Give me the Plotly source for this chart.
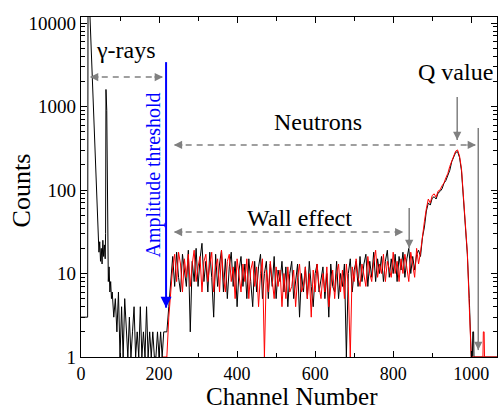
import math
import plotly.graph_objects as go

# ---------------- data ----------------
gamma_ch = [0, 17, 18, 20, 23, 26, 30, 34, 38, 41, 44, 46, 48, 50, 52, 54, 56, 58,
            60, 62, 63, 64, 66, 68, 70, 72, 74, 76, 78]
gamma_counts = [3, 3, 16000, 15000, 12000, 5000, 1600, 500, 150, 60, 27, 18, 24, 14,
                20, 13, 25, 16, 22, 15, 30, 1600, 900, 40, 8, 12, 6, 8, 5]

low_ch = list(range(80, 220, 4))
low_counts = [6, 3, 5, 2, 6, 1, 4, 1, 5, 2,
              1, 3, 1, 2, 4, 1, 2, 1, 4, 1,
              2, 1, 4, 1, 2, 1, 2, 1, 1, 2,
              1, 2, 1, 2, 2]

neutron_ch = list(range(220, 1001, 5))
black_counts = [2, 4, 9, 16, 7, 18, 9, 6, 17, 10,
                7, 19, 2, 14, 8, 20, 7, 15, 23, 8,
                14, 6, 18, 9, 3, 17, 7, 13, 19, 6,
                15, 5, 12, 18, 7, 14, 4, 11, 16, 7,
                13, 5, 15, 8, 4, 14, 6, 12, 17, 5,
                10, 14, 5, 13, 7, 16, 5, 11, 8, 14,
                6, 12, 4, 10, 14, 5, 9, 13, 3, 10,
                6, 12, 5, 14, 7, 4, 10, 13, 6, 9,
                12, 5, 10, 3, 13, 7, 6, 14, 5, 10,
                7, 13, 1, 10, 15, 6, 11, 14, 7, 16,
                8, 13, 17, 7, 14, 9, 18, 8, 15, 10,
                16, 8, 14, 19, 9, 15, 10, 17, 8, 16,
                11, 18, 9, 15, 20, 10, 16, 11, 17, 19,
                16, 27, 36, 56, 70, 66, 80, 83, 78, 92,
                96, 103, 120, 130, 152, 172, 218, 248, 282, 288,
                245, 170, 85, 40, 17, 5, 1]
red_counts = [1, 3, 7, 12, 17, 8, 18, 13, 6, 15,
              9, 17, 7, 13, 19, 8, 12, 16, 6, 14,
              17, 8, 13, 18, 6, 12, 15, 6, 19, 9,
              6, 14, 17, 8, 12, 5, 15, 9, 6, 13,
              8, 15, 5, 11, 14, 7, 12, 4, 10, 15,
              1, 11, 6, 14, 8, 5, 12, 7, 11, 4,
              10, 5, 12, 6, 7, 11, 4, 9, 13, 6,
              7, 12, 5, 10, 3, 11, 6, 13, 7, 5,
              10, 6, 12, 4, 7, 11, 5, 10, 13, 6,
              11, 5, 13, 7, 1, 12, 8, 15, 9, 7,
              13, 9, 7, 16, 10, 8, 14, 19, 9, 13,
              10, 17, 8, 14, 11, 9, 18, 10, 14, 8,
              15, 10, 17, 11, 8, 18, 12, 9, 20, 13,
              18, 29, 42, 60, 78, 70, 86, 90, 82, 97,
              100, 112, 121, 140, 158, 192, 224, 265, 292, 302,
              255, 180, 90, 42, 18, 4, 1]

black_tail_ch = [1003, 1004, 1006, 1007, 1066]
black_tail = [1, 2, 2, 1, 1]
red_lead_ch = [210, 215]
red_lead = [1, 1]
red_tail_ch = [1030, 1031, 1033, 1034, 1066]
red_tail = [1, 2, 2, 1, 1]

x_ticks = [0, 200, 400, 600, 800, 1000]
y_ticks = [1, 10, 100, 1000, 10000]

# ---------------- figure ----------------
FONT = "Liberation Serif"
GRAY = "#808080"
BLUE = "#0000ff"

fig = go.Figure()
fig.add_trace(go.Scatter(
    x=gamma_ch + low_ch + neutron_ch + black_tail_ch,
    y=gamma_counts + low_counts + black_counts + black_tail,
    mode="lines", line=dict(color="black", width=1), hoverinfo="skip"))
fig.add_trace(go.Scatter(
    x=red_lead_ch + neutron_ch + red_tail_ch,
    y=red_lead + red_counts + red_tail,
    mode="lines", line=dict(color="#ff0000", width=1), hoverinfo="skip"))


def dashed(x0, x1, y):
    fig.add_trace(go.Scatter(x=[x0, x1], y=[y, y], mode="lines",
                             line=dict(color=GRAY, width=1.5, dash="6px,5px"),
                             hoverinfo="skip"))


def head(x, y, dx, dy, color=GRAY, width=1.5):
    fig.add_annotation(x=x, y=math.log10(y), ax=dx, ay=dy, axref="pixel", ayref="pixel",
                       text="", showarrow=True, arrowhead=2, arrowsize=1.1,
                       arrowwidth=width, arrowcolor=color)


def vline(x, y0, y1, color=GRAY, width=1.5):
    fig.add_trace(go.Scatter(x=[x, x], y=[y0, y1], mode="lines",
                             line=dict(color=color, width=width), hoverinfo="skip"))
    head(x, y1, 0, -10, color, width)


# gamma-rays double arrow
dashed(25, 208, 2250)
head(23, 2250, 10, 0)
head(210, 2250, -10, 0)
# neutrons double arrow
dashed(240, 1010, 346)
head(238, 346, 10, 0)
head(1012, 346, -10, 0)
# wall effect arrow
dashed(240, 824, 31.4)
head(238, 31.4, 10, 0)
head(826, 31.4, -10, 0)
# vertical arrows
vline(218, 3400, 3.9, BLUE, 2)
vline(841, 61, 20.2)
vline(964, 1300, 397)
vline(1018, 553, 1.21)

txt = dict(family=FONT, size=24, color="black")
fig.add_annotation(x=115, y=math.log10(4750), text="γ-rays", showarrow=False, font=txt)
fig.add_annotation(x=608, y=math.log10(652), text="Neutrons", showarrow=False, font=txt)
fig.add_annotation(x=561, y=math.log10(46), text="Wall effect", showarrow=False, font=txt)
fig.add_annotation(x=959, y=math.log10(2590), text="Q value", showarrow=False, font=txt)
fig.add_annotation(x=185, y=math.log10(150), text="Amplitude threshold", showarrow=False,
                   textangle=-90, font=dict(family=FONT, size=20, color=BLUE))

# axis titles
fig.add_annotation(xref="paper", yref="paper", x=-0.1442, y=0.49, text="Counts",
                   xanchor="center", yanchor="middle",
                   showarrow=False, textangle=-90, font=dict(family=FONT, size=26, color="black"))
fig.add_annotation(xref="paper", yref="paper", x=0.507, y=-0.1176, text="Channel Number",
                   xanchor="center", yanchor="middle",
                   showarrow=False, font=dict(family=FONT, size=25, color="black"))

fig.update_layout(
    width=499, height=409,
    margin=dict(l=81, r=2, t=17, b=52),
    paper_bgcolor="white", plot_bgcolor="white",
    showlegend=False,
    font=dict(family=FONT, size=19, color="black"),
)
fig.update_xaxes(range=[0, 1066], tickvals=x_ticks, ticks="inside", ticklen=6,
                 tickwidth=1, tickcolor="black", showline=True, linecolor="black",
                 linewidth=1.2, mirror="ticks", showgrid=False, zeroline=False,
                 minor=dict(dtick=100, tick0=0, ticks="inside", ticklen=4,
                            tickcolor="black", showgrid=False),
                 tickfont=dict(family=FONT, size=18))
fig.update_yaxes(type="log", range=[0, 4.072], tickvals=y_ticks,
                 ticktext=[str(v) for v in y_ticks], ticks="inside", ticklen=6,
                 tickwidth=1, tickcolor="black", showline=True, linecolor="black",
                 linewidth=1.2, mirror="ticks", showgrid=False, zeroline=False,
                 minor=dict(dtick="D1", ticks="inside", ticklen=4, tickcolor="black",
                            showgrid=False),
                 tickfont=dict(family=FONT, size=19))

fig.write_html("out.html")
